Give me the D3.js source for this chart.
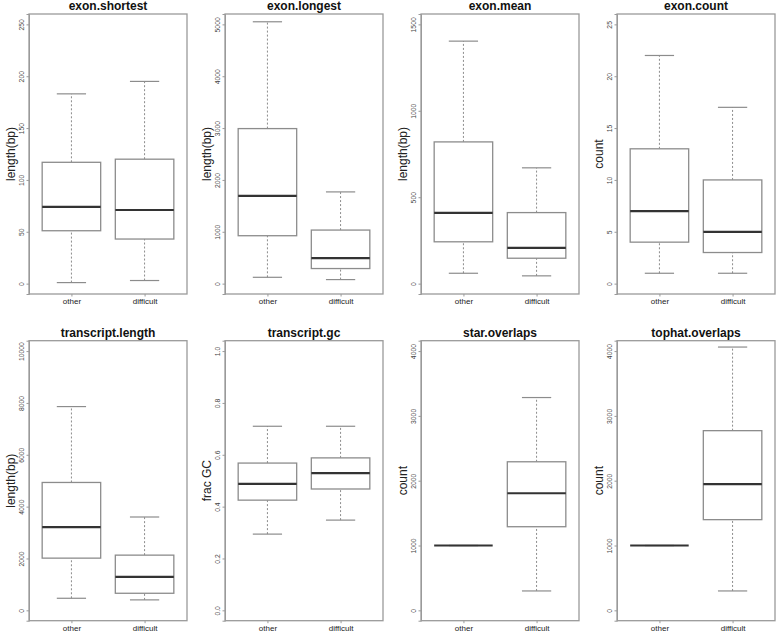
<!DOCTYPE html>
<html><head><meta charset="utf-8">
<script src="https://cdn.jsdelivr.net/npm/d3@7"></script>
<style>html,body{margin:0;padding:0;background:#fff;} svg{display:block;} text{font-variant-ligatures:none;}</style>
</head><body>
<svg id="chart" width="778" height="634"></svg>
<script>
const titles = ["exon.shortest","exon.longest","exon.mean","exon.count","transcript.length","transcript.gc","star.overlaps","tophat.overlaps"];
const yLabels = ["length(bp)","length(bp)","length(bp)","count","length(bp)","frac GC","count","count"];
const groups = ["other","difficult"];
const yTicks = [
  [0,50,100,150,200,250],
  [0,1000,2000,3000,4000,5000],
  [0,500,1000,1500],
  [0,5,10,15,20,25],
  [0,2000,4000,6000,8000,10000],
  [0.0,0.2,0.4,0.6,0.8,1.0],
  [0,1000,2000,3000,4000],
  [0,1000,2000,3000,4000]
];
const yTickLabels = [
  ["0","50","100","150","200","250"],
  ["0","1000","2000","3000","4000","5000"],
  ["0","500","1000","1500"],
  ["0","5","10","15","20","25"],
  ["0","2000","4000","6000","8000","10000"],
  ["0.0","0.2","0.4","0.6","0.8","1.0"],
  ["0","1000","2000","3000","4000"],
  ["0","1000","2000","3000","4000"]
];
// [lower whisker, Q1, median, Q3, upper whisker]
const otherStats = [
  [1,51,74,117,183],
  [122,924,1692,2990,5050],
  [60,242,409,820,1403],
  [1,4,7,13,22],
  [465,2013,3213,4932,7859],
  [0.294,0.425,0.488,0.568,0.710],
  [1000,1000,1000,1000,1000],
  [1000,1000,1000,1000,1000]
];
const difficultStats = [
  [3,43,71,120,195],
  [78,291,490,1033,1769],
  [45,147,207,411,670],
  [1,3,5,10,17],
  [403,658,1293,2129,3600],
  [0.348,0.468,0.529,0.588,0.710],
  [299,1290,1806,2292,3283],
  [299,1399,1946,2772,4062]
];

const svg = d3.select("#chart");
const font = "'Liberation Sans', Arial, Helvetica, sans-serif";
const colLeft = [29,225,421,617];
const plotW = 158;
const rowTop = [14,340.7];
const plotH = 280;

titles.forEach((title, i) => {
  const col = i % 4, row = Math.floor(i / 4);
  const x0 = colLeft[col], y0 = rowTop[row];
  const g = svg.append("g").attr("transform", `translate(${x0},${y0})`);
  const ticks = yTicks[i];
  const ymax = ticks[ticks.length - 1];
  const pad = 0.04 * ymax;
  const y = d3.scaleLinear().domain([-pad, ymax + pad]).range([plotH, 0]);
  const x = d3.scaleLinear().domain([0.42, 2.58]).range([0, plotW]);

  [otherStats[i], difficultStats[i]].forEach((s, k) => {
    const c = k + 1;
    const bw = x(c + 0.4) - x(c - 0.4);
    const sw = x(c + 0.2) - x(c - 0.2);
    const bx = g.append("g");
    bx.append("line").attr("x1", x(c)).attr("x2", x(c)).attr("y1", y(s[0])).attr("y2", y(s[1]))
      .attr("stroke", "#8c8c8c").attr("stroke-width", 1).attr("stroke-dasharray", "2,2");
    bx.append("line").attr("x1", x(c)).attr("x2", x(c)).attr("y1", y(s[3])).attr("y2", y(s[4]))
      .attr("stroke", "#8c8c8c").attr("stroke-width", 1).attr("stroke-dasharray", "2,2");
    [s[0], s[4]].forEach(v => {
      bx.append("line").attr("x1", x(c) - sw / 2).attr("x2", x(c) + sw / 2).attr("y1", y(v)).attr("y2", y(v))
        .attr("stroke", "#8c8c8c").attr("stroke-width", 1.2);
    });
    bx.append("rect").attr("x", x(c) - bw / 2).attr("y", y(s[3])).attr("width", bw)
      .attr("height", Math.max(0, y(s[1]) - y(s[3])))
      .attr("fill", "#fff").attr("stroke", "#8c8c8c").attr("stroke-width", 1.3);
    bx.append("line").attr("x1", x(c) - bw / 2).attr("x2", x(c) + bw / 2).attr("y1", y(s[2])).attr("y2", y(s[2]))
      .attr("stroke", "#333").attr("stroke-width", 2.2);
  });

  g.append("rect").attr("x", 0).attr("y", 0).attr("width", plotW).attr("height", plotH)
    .attr("fill", "none").attr("stroke", "#9a9a9a").attr("stroke-width", 1.3);

  const yAxis = d3.axisLeft(y).tickValues(ticks).tickSize(2.5).tickPadding(4)
    .tickFormat((d, j) => yTickLabels[i][j]);
  const ya = g.append("g").call(yAxis);
  ya.select(".domain").attr("stroke", "#9a9a9a");
  ya.selectAll(".tick line").attr("stroke", "#9a9a9a");
  ya.selectAll(".tick text")
    .attr("font-family", font).attr("font-size", 6.8).style("fill", "#444")
    .attr("text-anchor", "middle").attr("dy", 0).attr("x", 0)
    .attr("transform", "translate(-8,0) rotate(-90)")
    .attr("dominant-baseline", "central");

  const xAxis = d3.axisBottom(x).tickValues([1, 2]).tickSize(2.5).tickPadding(2)
    .tickFormat((d) => groups[d - 1]);
  const xa = g.append("g").attr("transform", `translate(0,${plotH})`).call(xAxis);
  xa.select(".domain").remove();
  xa.selectAll(".tick line").attr("stroke", "#9a9a9a");
  xa.selectAll(".tick text").attr("font-family", font).attr("font-size", 8).style("fill", "#222");

  g.append("text").attr("x", plotW / 2).attr("y", -4).attr("text-anchor", "middle")
    .attr("font-family", font).attr("font-weight", "bold").attr("font-size", 12).style("fill", "#111")
    .text(title);

  g.append("text").attr("transform", `translate(-18.5,${plotH / 2}) rotate(-90)`)
    .attr("text-anchor", "middle").attr("dominant-baseline", "central")
    .attr("font-family", font).attr("font-size", 12).style("fill", "#222")
    .text(yLabels[i]);
});
</script>
</body></html>
